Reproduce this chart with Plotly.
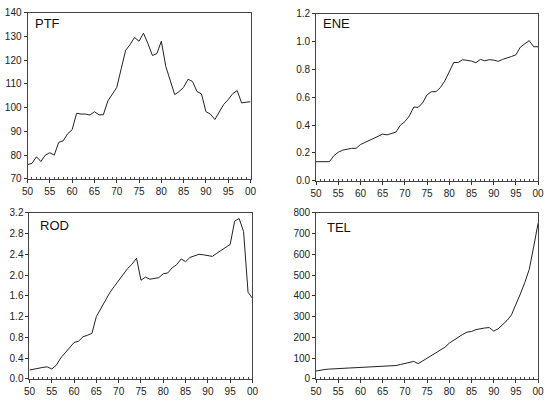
import plotly.graph_objects as go

years = list(range(1950, 2001))

ptf = [76, 76.5, 79.3, 77.3, 80, 81, 80, 85.4, 86, 89, 90.7, 97.6, 97.3, 97.3, 96.9, 98.3, 97, 97,
       102.8, 105.5, 108.5, 116.4, 124.2, 126.6, 129.6, 128, 131.4, 127, 122, 122.8, 128, 117.4,
       111.2, 105.5, 106.8, 108.6, 112, 111, 106.8, 105.8, 98.3, 97.3, 95, 98.3, 101.4, 103.4,
       105.9, 107.2, 102, 102.3, 102.5]

ene = [0.137, 0.137, 0.137, 0.137, 0.18, 0.205, 0.22, 0.226, 0.233, 0.233, 0.26, 0.275, 0.29,
       0.31, 0.32, 0.335, 0.33, 0.34, 0.35, 0.40, 0.425, 0.466, 0.53, 0.527, 0.56, 0.618, 0.64,
       0.64, 0.67, 0.718, 0.78, 0.85, 0.85, 0.87, 0.865, 0.86, 0.848, 0.872, 0.862, 0.87, 0.867,
       0.858, 0.872, 0.88, 0.893, 0.905, 0.96, 0.984, 1.007, 0.963, 0.963]

rod = [0.169, 0.19, 0.2, 0.22, 0.23, 0.19, 0.26, 0.4, 0.5, 0.6, 0.7, 0.725, 0.81, 0.84, 0.875,
       1.2, 1.36, 1.52, 1.66, 1.78, 1.89, 2.01, 2.125, 2.21, 2.325, 1.9, 1.96, 1.92, 1.94, 1.95,
       2.025, 2.04, 2.14, 2.2, 2.31, 2.26, 2.34, 2.37, 2.4, 2.39, 2.38, 2.36, 2.42, 2.48, 2.53,
       2.59, 3.04, 3.09, 2.84, 1.67, 1.55]

tel = [37.5, 42, 45, 47, 48, 50, 50, 52, 53, 55, 56, 56, 57, 58, 58, 59, 59, 60, 64, 69, 73, 78,
       84, 73, 86, 97, 111, 125, 137, 152, 172, 187, 200, 214, 225, 228, 237, 242, 245, 247, 230,
       241, 261, 281, 308, 355, 409, 464, 527, 636, 750]

x_tickvals = [1950, 1955, 1960, 1965, 1970, 1975, 1980, 1985, 1990, 1995, 2000]
x_ticktext = ["50", "55", "60", "65", "70", "75", "80", "85", "90", "95", "00"]

panels = [
    ("PTF", ptf, [70, 140], 10, None),
    ("ENE", ene, [0, 1.2], 0.2, ".1f"),
    ("ROD", rod, [0, 3.2], 0.4, ".1f"),
    ("TEL", tel, [0, 800], 100, None),
]

W, H = 549, 412
# pixel boxes (left, right, top, bottom)
boxes = [(22, 250, 7, 178), (317, 544, 8, 180), (24, 252, 213, 384), (317, 544, 213, 384)]
label_pos = [(28, 18), (322, 18), (33, 226), (326, 228)]

fig = go.Figure()
font = dict(family="Liberation Sans, Arial, sans-serif", size=10, color="#222")

for i, (name, vals, yr, dt, fmt) in enumerate(panels):
    n = "" if i == 0 else str(i + 1)
    m = str(i + 5)  # overlay axis for yearly minor ticks
    l, r, t, b = boxes[i]
    fig.add_trace(go.Scatter(x=years, y=vals, mode="lines",
                             line=dict(color="#222", width=1),
                             xaxis="x" + n, yaxis="y" + n, showlegend=False))
    fig.add_trace(go.Scatter(x=years, y=vals, mode="lines", opacity=0,
                             line=dict(color="#222", width=1), hoverinfo="skip",
                             xaxis="x" + m, yaxis="y" + n, showlegend=False))
    xa = dict(domain=[l / W, r / W], range=[1950, 2000], anchor="y" + n,
              tickmode="array", tickvals=x_tickvals, ticktext=x_ticktext,
              ticks="outside", ticklen=3,
              tickcolor="#333", showgrid=False, zeroline=False, showline=True,
              linecolor="#444", linewidth=1, mirror=True, tickfont=font)
    xm = dict(overlaying="x" + n, range=[1950, 2000], anchor="y" + n, side="bottom",
              tickmode="array", tickvals=years, showticklabels=False,
              ticks="inside", ticklen=2, tickcolor="#444", tickwidth=1,
              showgrid=False, zeroline=False, showline=False)
    ya = dict(domain=[1 - b / H, 1 - t / H], range=yr, anchor="x" + n, dtick=dt, tick0=0,
              ticks="outside", ticklen=3, tickcolor="#333", showgrid=False, zeroline=False,
              showline=True, linecolor="#444", linewidth=1, mirror=True, tickfont=font)
    if fmt:
        ya["tickformat"] = fmt
    fig.update_layout(**{"xaxis" + n: xa, "yaxis" + n: ya, "xaxis" + m: xm})
    lx, ly = label_pos[i]
    fig.add_annotation(x=lx / W, y=1 - ly / H, xref="paper", yref="paper", text=name,
                       showarrow=False, xanchor="left", yanchor="middle",
                       font=dict(family="Liberation Sans, Arial, sans-serif", size=13, color="#111"))

fig.update_layout(width=W, height=H, margin=dict(l=0, r=0, t=0, b=0),
                  paper_bgcolor="white", plot_bgcolor="white")

fig.write_html("out.html")
